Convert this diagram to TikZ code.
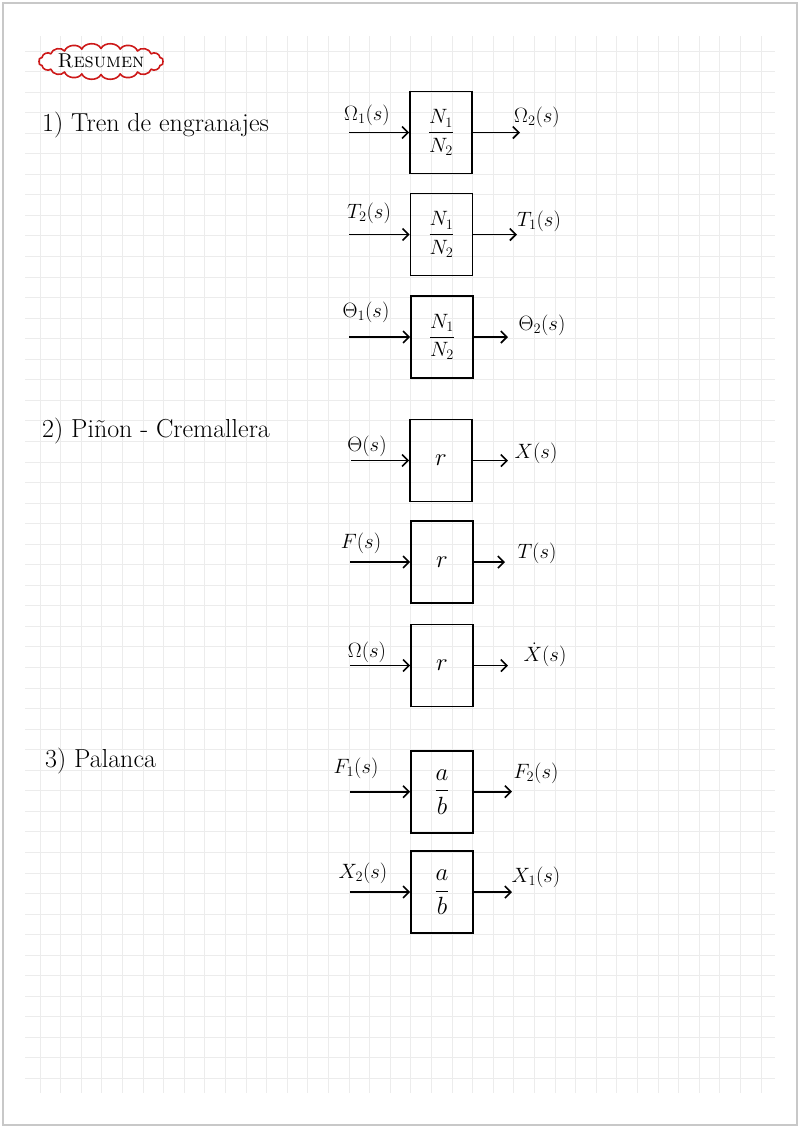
\documentclass[tikz,border=0pt]{standalone}
\usepackage{amsmath}
\usetikzlibrary{arrows.meta}
\definecolor{gridc}{RGB}{236,236,236}
\definecolor{framec}{RGB}{200,200,200}
\definecolor{cloudred}{RGB}{205,25,25}
\tikzset{
  blk/.style={draw, line width=1.6pt, minimum width=62pt, minimum height=82pt, inner sep=0pt, font=\fontsize{20}{24}\selectfont},
  arr/.style={line width=1.6pt, -{Straight Barb[length=6pt,width=12pt,line width=1.6pt]}},
  lbl/.style={inner sep=0pt, font=\fontsize{21}{25}\selectfont},
  head/.style={anchor=base west, inner sep=0pt, font=\fontsize{26}{30}\selectfont},
  rtxt/.style={font=\fontsize{36}{40}\selectfont},
  abtxt/.style={font=\fontsize{25}{30}\selectfont},
  cloudline/.style={draw=cloudred, line width=1.6pt, line join=round}
}
\begin{document}
\begin{tikzpicture}[x=1pt,y=-1pt]
\useasboundingbox (0,0) rectangle (800,1128);
% paper grid
\foreach \k in {0,...,50} {
  \draw[gridc, line width=1pt] (25,51+20.55*\k) -- (775,51+20.55*\k);
}
\foreach \k in {0,...,35} {
  \draw[gridc, line width=1pt] (40+20.6*\k,36) -- (40+20.6*\k,1093);
}
% page frame
\draw[framec, line width=1.5pt] (3,3) rectangle (797,1125);

% title cloud
\draw[cloudline] (163,61.5)
  \foreach \k in {1,...,20} { to[bend left=65] ({101+62*cos(\k*18)},{61.5+13*sin(\k*18)}) } -- cycle;
\node[inner sep=0pt, font=\fontsize{20}{24}\selectfont] (title) at (101,61) {\textsc{Resumen}};

% headings
\node[head] (h1) at (42,131) {1) Tren de engranajes};
\node[head] (h2) at (42,437) {2) Piñon - Cremallera};
\node[head] (h3) at (45,767) {3) Palanca};

% ---- block 1
\node[blk] (b1) at (441,132.5) {$\dfrac{N_1}{N_2}$};
\coordinate (i1) at (349,132.5);
\coordinate (o1) at (520,132.5);
\draw[arr] (i1) -- (b1.west);
\draw[arr] (b1.east) -- (o1);
\node[lbl] (l1i) at (367,115) {$\Omega_1(s)$};
\node[lbl] (l1o) at (537,117) {$\Omega_2(s)$};

% ---- block 2
\node[blk] (b2) at (441.5,234.5) {$\dfrac{N_1}{N_2}$};
\coordinate (i2) at (349,234.5);
\coordinate (o2) at (517,234.5);
\draw[arr] (i2) -- (b2.west);
\draw[arr] (b2.east) -- (o2);
\node[lbl] (l2i) at (369,213) {$T_2(s)$};
\node[lbl] (l2o) at (539,221) {$T_1(s)$};

% ---- block 3
\node[blk] (b3) at (442,337) {$\dfrac{N_1}{N_2}$};
\coordinate (i3) at (349,337);
\coordinate (o3) at (508,337);
\draw[arr] (i3) -- (b3.west);
\draw[arr] (b3.east) -- (o3);
\node[lbl] (l3i) at (366,312) {$\Theta_1(s)$};
\node[lbl] (l3o) at (542,325) {$\Theta_2(s)$};

% ---- block 4
\node[blk] (b4) at (441,460.5) {};
\node[rtxt] (r4) at (b4) {$r$};
\coordinate (i4) at (351,460.5);
\coordinate (o4) at (508,460.5);
\draw[arr] (i4) -- (b4.west);
\draw[arr] (b4.east) -- (o4);
\node[lbl] (l4i) at (367,446) {$\Theta(s)$};
\node[lbl] (l4o) at (536,453) {$X(s)$};

% ---- block 5
\node[blk] (b5) at (442,562) {};
\node[rtxt] (r5) at (b5) {$r$};
\coordinate (i5) at (350,562);
\coordinate (o5) at (505,562);
\draw[arr] (i5) -- (b5.west);
\draw[arr] (b5.east) -- (o5);
\node[lbl] (l5i) at (361,543) {$F(s)$};
\node[lbl] (l5o) at (537,553) {$T(s)$};

% ---- block 6
\node[blk] (b6) at (442,665.5) {};
\node[rtxt] (r6) at (b6) {$r$};
\coordinate (i6) at (350,665.5);
\coordinate (o6) at (508,665.5);
\draw[arr] (i6) -- (b6.west);
\draw[arr] (b6.east) -- (o6);
\node[lbl] (l6i) at (367,652) {$\Omega(s)$};
\node[lbl] (l6o) at (545,655) {$\dot{X}(s)$};

% ---- block 7
\node[blk] (b7) at (442,791.7) {};
\node[abtxt] (f7) at (b7) {$\dfrac{a}{b}$};
\coordinate (i7) at (350,791.7);
\coordinate (o7) at (512,791.7);
\draw[arr] (i7) -- (b7.west);
\draw[arr] (b7.east) -- (o7);
\node[lbl] (l7i) at (356,768) {$F_1(s)$};
\node[lbl] (l7o) at (536,773) {$F_2(s)$};

% ---- block 8
\node[blk] (b8) at (442,892) {};
\node[abtxt] (f8) at (b8) {$\dfrac{a}{b}$};
\coordinate (i8) at (350,892);
\coordinate (o8) at (512,892);
\draw[arr] (i8) -- (b8.west);
\draw[arr] (b8.east) -- (o8);
\node[lbl] (l8i) at (363,873) {$X_2(s)$};
\node[lbl] (l8o) at (536,877) {$X_1(s)$};
\end{tikzpicture}
\end{document}
